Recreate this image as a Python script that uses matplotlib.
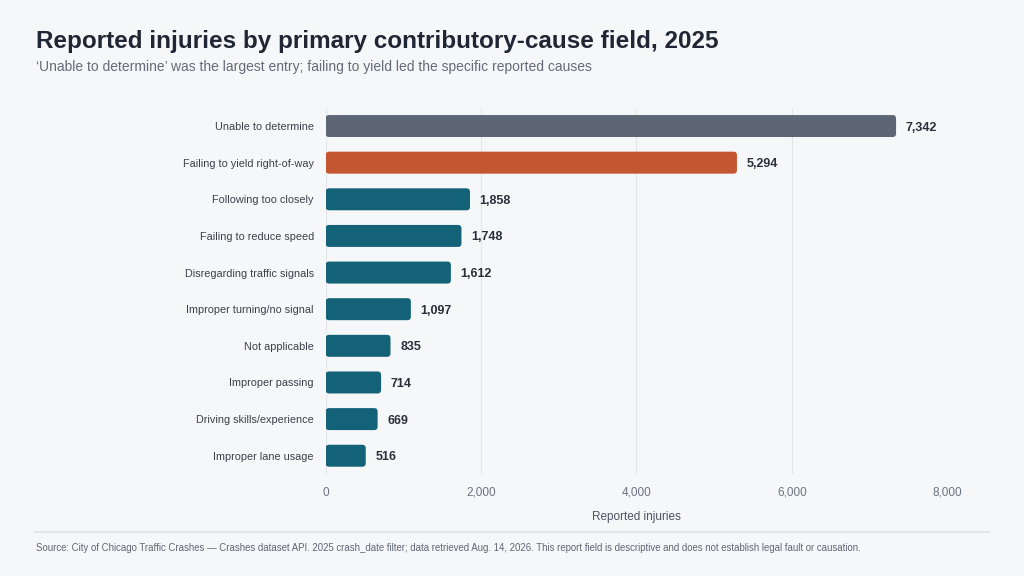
import matplotlib
matplotlib.use("Agg")
import matplotlib.pyplot as plt
from matplotlib.patches import FancyBboxPatch
from matplotlib.lines import Line2D

causes = [
    "Unable to determine",
    "Failing to yield right-of-way",
    "Following too closely",
    "Failing to reduce speed",
    "Disregarding traffic signals",
    "Improper turning/no signal",
    "Not applicable",
    "Improper passing",
    "Driving skills/experience",
    "Improper lane usage",
]
injuries = [7342, 5294, 1858, 1748, 1612, 1097, 835, 714, 669, 516]
bar_colors = ["#5c6675", "#c45731"] + ["#136277"] * 8

plt.rcParams["font.family"] = ["Liberation Sans", "DejaVu Sans"]
bg = "#f6f7f9"

fig = plt.figure(figsize=(10.24, 5.76), dpi=100, facecolor=bg)
ax = fig.add_axes([0.318, 0.177, 0.607, 0.636], facecolor=bg)

ypos = list(range(len(causes)))
bars = ax.barh(ypos, injuries, height=0.6, color=bar_colors, zorder=3)
ax.set_xlim(0, 8000)
ax.set_ylim(len(causes) - 0.5, -0.5)

# swap the plain bars for rounded ones of the same size
fig.canvas.draw()
px_per_x = ax.transData.transform((1, 0))[0] - ax.transData.transform((0, 0))[0]
px_per_y = abs(ax.transData.transform((0, 1))[1] - ax.transData.transform((0, 0))[1])
r_px = 3.5
for b in bars:
    x0, y0, w, h = b.get_x(), b.get_y(), b.get_width(), b.get_height()
    patch = FancyBboxPatch((x0, y0), w, h,
                           boxstyle=f"round,pad=0,rounding_size={r_px / px_per_x}",
                           mutation_aspect=px_per_x / px_per_y,
                           facecolor=b.get_facecolor(), edgecolor="none", zorder=3)
    ax.add_patch(patch)
    b.set_visible(False)

for y, v in zip(ypos, injuries):
    ax.annotate(f"{v:,}", (v, y), xytext=(7, 0), textcoords="offset points",
                va="center_baseline", ha="left", fontsize=9, fontweight="bold", color="#2a2f3a")

ax.set_yticks(ypos)
ax.set_yticklabels(causes, fontsize=7.8, color="#3a404a")
ax.set_xticks([0, 2000, 4000, 6000, 8000])
ax.set_xticklabels(["0", "2,000", "4,000", "6,000", "8,000"], fontsize=8.5, color="#6b7280")
ax.tick_params(length=0)
ax.tick_params(axis="y", pad=8.5)
ax.tick_params(axis="x", pad=9)
ax.grid(axis="x", color="#e2e5ea", linewidth=0.8, zorder=0)
for s in ax.spines.values():
    s.set_visible(False)
ax.set_xlabel("Reported injuries", fontsize=8.5, color="#4b5260", labelpad=9)

fig.text(0.035, 0.928, "Reported injuries by primary contributory-cause field, 2025",
         fontsize=17.5, fontweight="bold", color="#202634", va="center")
fig.text(0.035, 0.884, "\u2018Unable to determine\u2019 was the largest entry; failing to yield led the specific reported causes",
         fontsize=10, color="#636b78", va="center")

fig.add_artist(Line2D([0.034, 0.966], [0.076, 0.076], color="#dfe3e8", linewidth=1.2))
fig.text(0.035, 0.048,
         "Source: City of Chicago Traffic Crashes \u2014 Crashes dataset API. 2025 crash_date filter; data retrieved Aug. 14, 2026. This report field is descriptive and does not establish legal fault or causation.",
         fontsize=6.9, color="#5f6673", va="center")

fig.savefig("out.png", dpi=100, facecolor=bg)
